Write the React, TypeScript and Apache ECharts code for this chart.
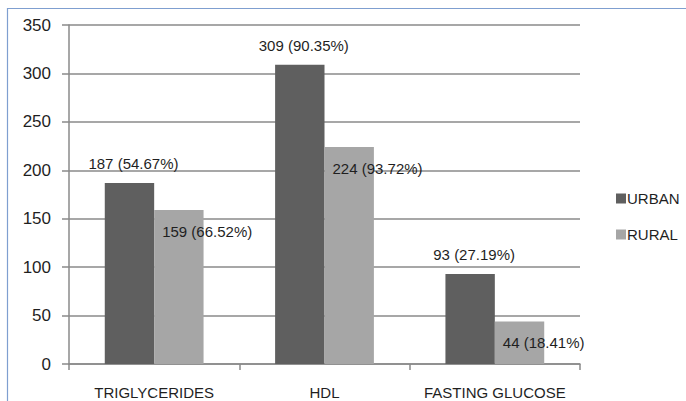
import React, { useEffect, useRef } from "react";
import * as echarts from "echarts";

const categories = ["TRIGLYCERIDES", "HDL", "FASTING GLUCOSE"];
const urbanValues = [187, 309, 93];
const ruralValues = [159, 224, 44];
const urbanPct = ["54.67%", "90.35%", "27.19%"];
const ruralPct = ["66.52%", "93.72%", "18.41%"];
const seriesNames = ["URBAN", "RURAL"];
const yTicks = { min: 0, max: 350, interval: 50 };

const FONT = "'Liberation Sans', Arial, sans-serif";

export default function App() {
  const ref = useRef<HTMLDivElement>(null);
  useEffect(() => {
    if (!ref.current) return;
    const chart = echarts.init(ref.current, undefined, { renderer: "svg" });
    chart.setOption({
      animation: false,
      backgroundColor: "#ffffff",
      textStyle: { fontFamily: FONT },
      grid: { left: 69, right: 106, top: 25, bottom: 37 },
      legend: {
        orient: "vertical",
        left: 611,
        top: 186,
        itemWidth: 10,
        itemHeight: 10,
        itemGap: 21,
        icon: "rect",
        textStyle: { fontFamily: FONT, fontSize: 15, color: "#1f1f1f", padding: [0, 0, 0, -4] },
        data: seriesNames,
      },
      xAxis: {
        type: "category",
        data: categories,
        axisLine: { lineStyle: { color: "#8a8a8a", width: 1.5 } },
        axisTick: { show: true, length: 6, alignWithLabel: false, lineStyle: { color: "#8a8a8a", width: 1.5 } },
        axisLabel: { fontFamily: FONT, fontSize: 15, color: "#1f1f1f", margin: 21, interval: 0 },
      },
      yAxis: {
        type: "value",
        min: yTicks.min,
        max: yTicks.max,
        interval: yTicks.interval,
        axisLine: { show: true, lineStyle: { color: "#8a8a8a", width: 1.5 } },
        axisTick: { show: true, length: 7, lineStyle: { color: "#8a8a8a", width: 1.5 } },
        splitLine: { show: true, lineStyle: { color: "#8a8a8a", width: 1.5 } },
        axisLabel: { fontFamily: FONT, fontSize: 17, color: "#1f1f1f", margin: 18 },
      },
      series: [
        {
          name: seriesNames[0],
          type: "bar",
          data: urbanValues,
          barGap: "0%",
          barCategoryGap: "42%",
          itemStyle: { color: "#5f5f5f" },
          label: {
            show: true,
            position: "top",
            distance: 12,
            offset: [4, 0],
            fontFamily: FONT,
            fontSize: 15,
            color: "#1f1f1f",
            formatter: (p: any) => `${urbanValues[p.dataIndex]} (${urbanPct[p.dataIndex]})`,
          },
        },
        {
          name: seriesNames[1],
          type: "bar",
          data: ruralValues,
          barGap: "0%",
          barCategoryGap: "42%",
          itemStyle: { color: "#a6a6a6" },
          label: {
            show: true,
            position: [8, 14],
            fontFamily: FONT,
            fontSize: 15,
            color: "#1f1f1f",
            formatter: (p: any) => `${ruralValues[p.dataIndex]} (${ruralPct[p.dataIndex]})`,
          },
        },
      ],
      graphic: [
        { type: "line", shape: { x1: 7, y1: 8.5, x2: 686, y2: 8.5 }, style: { stroke: "#7f9fd0", lineWidth: 1.2 } },
        { type: "line", shape: { x1: 7.5, y1: 8, x2: 7.5, y2: 401 }, style: { stroke: "#7f9fd0", lineWidth: 1.2 } },
      ],
    });
    return () => chart.dispose();
  }, []);
  return (
    <div
      ref={ref}
      style={{ position: "fixed", left: 0, top: 0, width: 686, height: 401 }}
    />
  );
}
